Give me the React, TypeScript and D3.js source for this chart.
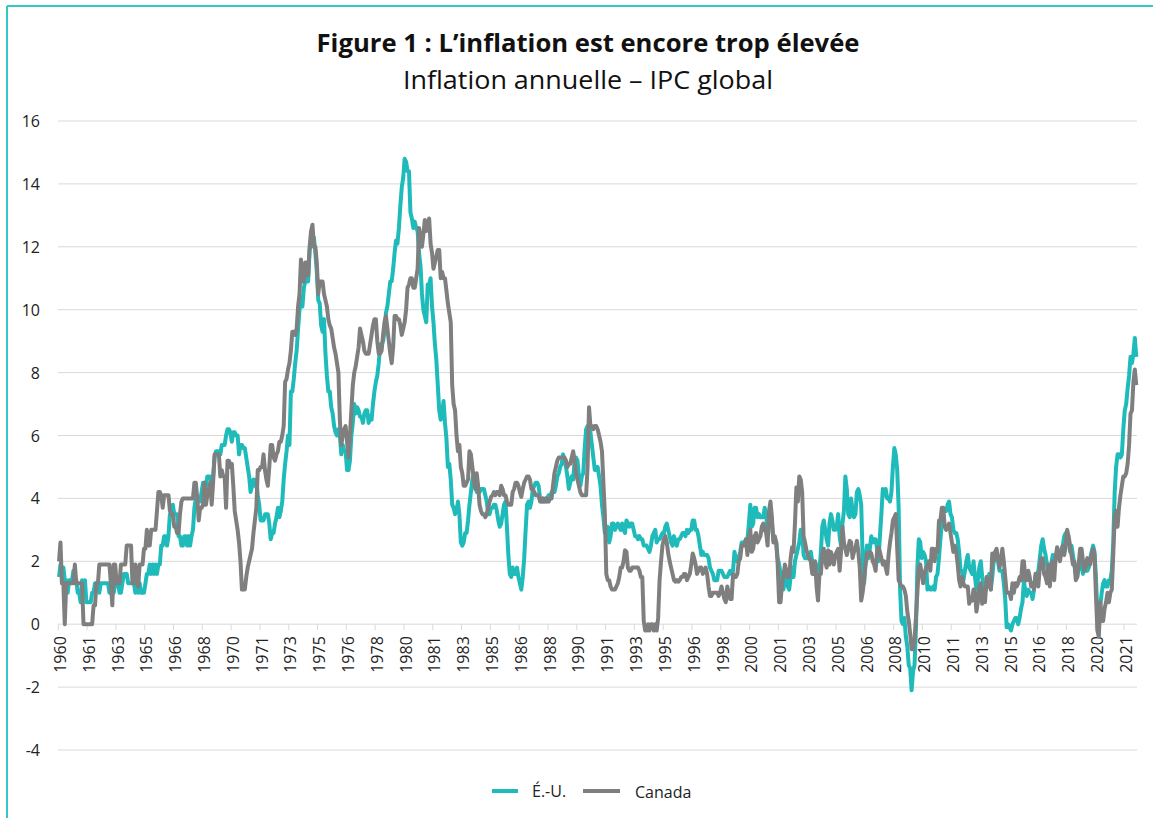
import React from "react";
import * as d3 from "d3";

// Annual CPI inflation (%), one row per calendar year, January to December.
// The chart itself begins in March 1960 and ends in July 2022.
const usRows: number[][] = [
  [1.0, 1.7, 1.5, 1.9, 1.8, 1.8, 1.4, 1.4, 1.0, 1.4, 1.4, 1.4], // 1960
  [1.7, 1.4, 1.4, 1.0, 1.0, 0.7, 1.4, 1.0, 1.4, 0.7, 0.7, 0.7],
  [0.7, 1.0, 1.0, 1.3, 1.3, 1.3, 1.0, 1.3, 1.3, 1.3, 1.3, 1.3],
  [1.3, 1.0, 1.0, 1.0, 1.0, 1.3, 1.3, 1.3, 1.0, 1.0, 1.3, 1.6],
  [1.6, 1.6, 1.3, 1.3, 1.3, 1.3, 1.3, 1.0, 1.3, 1.0, 1.3, 1.0],
  [1.0, 1.0, 1.3, 1.6, 1.6, 1.9, 1.6, 1.9, 1.6, 1.9, 1.6, 1.9], // 1965
  [1.9, 2.5, 2.5, 2.8, 2.8, 2.5, 2.8, 3.5, 3.5, 3.8, 3.5, 3.5],
  [3.5, 2.8, 2.8, 2.5, 2.5, 2.8, 2.8, 2.5, 2.8, 2.5, 2.8, 3.0],
  [3.7, 4.0, 4.0, 3.9, 3.9, 4.2, 4.5, 4.5, 4.4, 4.7, 4.7, 4.7],
  [4.4, 4.7, 5.3, 5.5, 5.5, 5.5, 5.4, 5.7, 5.7, 5.7, 6.0, 6.2],
  [6.2, 6.1, 5.8, 6.1, 6.1, 6.0, 6.0, 5.4, 5.7, 5.7, 5.6, 5.6], // 1970
  [5.3, 5.0, 4.7, 4.2, 4.4, 4.6, 4.4, 4.6, 4.1, 3.8, 3.3, 3.3],
  [3.3, 3.5, 3.5, 3.5, 3.2, 2.7, 2.9, 2.9, 3.2, 3.4, 3.7, 3.4],
  [3.6, 3.9, 4.6, 5.1, 5.5, 6.0, 5.7, 7.4, 7.4, 7.8, 8.3, 8.7],
  [9.4, 10.0, 10.4, 10.1, 10.7, 10.9, 11.5, 10.9, 11.9, 12.1, 12.2, 12.3],
  [11.8, 11.2, 10.3, 10.2, 9.5, 9.3, 9.7, 8.6, 7.9, 7.4, 7.4, 6.9], // 1975
  [6.7, 6.3, 6.1, 6.0, 6.2, 6.0, 5.4, 5.7, 5.5, 5.5, 4.9, 4.9],
  [5.2, 6.0, 6.4, 7.0, 6.7, 6.9, 6.8, 6.6, 6.6, 6.4, 6.7, 6.8],
  [6.8, 6.4, 6.6, 6.5, 7.0, 7.4, 7.7, 7.9, 8.3, 8.9, 8.9, 9.0],
  [9.3, 9.9, 10.1, 10.5, 10.9, 10.9, 11.3, 11.8, 12.2, 12.1, 12.6, 13.3],
  [13.9, 14.2, 14.8, 14.7, 14.4, 14.4, 13.1, 12.9, 12.6, 12.8, 12.6, 12.5], // 1980
  [11.8, 11.4, 10.5, 10.0, 9.8, 9.6, 10.8, 10.8, 11.0, 10.1, 9.6, 8.9],
  [8.4, 7.6, 6.8, 6.5, 6.7, 7.1, 6.4, 5.9, 5.0, 5.1, 4.6, 3.8],
  [3.7, 3.5, 3.6, 3.9, 3.5, 2.6, 2.5, 2.6, 2.9, 2.9, 3.3, 3.8],
  [4.2, 4.6, 4.8, 4.6, 4.2, 4.2, 4.2, 4.3, 4.3, 4.3, 4.1, 3.9],
  [3.5, 3.5, 3.7, 3.7, 3.8, 3.8, 3.6, 3.3, 3.1, 3.2, 3.5, 3.8], // 1985
  [3.9, 3.1, 2.2, 1.6, 1.5, 1.8, 1.6, 1.6, 1.8, 1.5, 1.3, 1.1],
  [1.5, 2.1, 3.0, 3.8, 3.9, 3.7, 3.9, 4.3, 4.4, 4.5, 4.5, 4.4],
  [4.0, 3.9, 3.9, 3.9, 3.9, 4.0, 4.1, 4.0, 4.2, 4.2, 4.2, 4.4],
  [4.7, 4.8, 5.0, 5.1, 5.4, 5.2, 5.0, 4.7, 4.3, 4.5, 4.7, 4.6],
  [5.2, 5.3, 5.2, 4.7, 4.4, 4.7, 4.8, 5.6, 6.2, 6.3, 6.3, 6.1], // 1990
  [5.7, 5.3, 4.9, 4.9, 5.0, 4.7, 4.4, 3.8, 3.4, 2.9, 3.0, 3.1],
  [2.6, 2.8, 3.2, 3.2, 3.0, 3.1, 3.2, 3.1, 3.0, 3.2, 3.0, 2.9],
  [3.3, 3.2, 3.1, 3.2, 3.2, 3.0, 2.8, 2.8, 2.7, 2.8, 2.7, 2.7],
  [2.5, 2.5, 2.5, 2.4, 2.3, 2.5, 2.8, 2.9, 3.0, 2.6, 2.7, 2.7],
  [2.8, 2.9, 2.9, 3.1, 3.2, 3.0, 2.8, 2.6, 2.5, 2.8, 2.6, 2.5], // 1995
  [2.7, 2.7, 2.8, 2.9, 2.9, 2.8, 3.0, 2.9, 3.0, 3.0, 3.3, 3.3],
  [3.0, 3.0, 2.8, 2.5, 2.2, 2.3, 2.2, 2.2, 2.2, 2.1, 1.8, 1.7],
  [1.6, 1.4, 1.4, 1.4, 1.7, 1.7, 1.7, 1.6, 1.5, 1.5, 1.5, 1.6],
  [1.7, 1.6, 1.7, 2.3, 2.1, 2.0, 2.1, 2.3, 2.6, 2.6, 2.6, 2.7],
  [2.7, 3.2, 3.8, 3.1, 3.2, 3.7, 3.7, 3.4, 3.5, 3.4, 3.4, 3.4], // 2000
  [3.7, 3.5, 2.9, 3.3, 3.6, 3.2, 2.7, 2.7, 2.6, 2.1, 1.9, 1.6],
  [1.1, 1.1, 1.5, 1.6, 1.2, 1.1, 1.5, 1.8, 1.5, 2.0, 2.2, 2.4],
  [2.6, 3.0, 3.0, 2.2, 2.1, 2.1, 2.1, 2.2, 2.3, 2.0, 1.8, 1.9],
  [1.9, 1.7, 1.7, 2.3, 3.1, 3.3, 3.0, 2.7, 2.5, 3.2, 3.5, 3.3],
  [3.0, 3.0, 3.1, 3.5, 2.8, 2.5, 3.2, 3.6, 4.7, 4.3, 3.5, 3.4], // 2005
  [4.0, 3.6, 3.4, 3.5, 4.2, 4.3, 4.1, 3.8, 2.1, 1.3, 2.0, 2.5],
  [2.1, 2.4, 2.8, 2.6, 2.7, 2.7, 2.4, 2.0, 2.8, 3.5, 4.3, 4.1],
  [4.3, 4.0, 4.0, 3.9, 4.2, 5.0, 5.6, 5.4, 4.9, 3.7, 1.1, 0.1],
  [0.0, 0.2, -0.4, -0.7, -1.3, -1.4, -2.1, -1.5, -1.3, -0.2, 1.8, 2.7],
  [2.6, 2.1, 2.3, 2.2, 2.0, 1.1, 1.2, 1.1, 1.1, 1.2, 1.1, 1.5], // 2010
  [1.6, 2.1, 2.7, 3.2, 3.6, 3.6, 3.6, 3.8, 3.9, 3.5, 3.4, 3.0],
  [2.9, 2.9, 2.7, 2.3, 1.7, 1.7, 1.4, 1.7, 2.0, 2.2, 1.8, 1.7],
  [1.6, 2.0, 1.5, 1.1, 1.4, 1.8, 2.0, 1.5, 1.2, 1.0, 1.2, 1.5],
  [1.6, 1.1, 1.5, 2.0, 2.1, 2.1, 2.0, 1.7, 1.7, 1.7, 1.3, 0.8],
  [-0.1, 0.0, -0.1, -0.2, 0.0, 0.1, 0.2, 0.2, 0.0, 0.2, 0.5, 0.7], // 2015
  [1.4, 1.0, 0.9, 1.1, 1.0, 1.0, 0.8, 1.1, 1.5, 1.6, 1.7, 2.1],
  [2.5, 2.7, 2.4, 2.2, 1.9, 1.6, 1.7, 1.9, 2.2, 2.0, 2.2, 2.1],
  [2.1, 2.2, 2.4, 2.5, 2.8, 2.9, 2.9, 2.7, 2.3, 2.5, 2.2, 1.9],
  [1.6, 1.5, 1.9, 2.0, 1.8, 1.6, 1.8, 1.7, 1.7, 1.8, 2.1, 2.3],
  [2.5, 2.3, 1.5, 0.3, 0.1, 0.6, 1.0, 1.3, 1.4, 1.2, 1.2, 1.4], // 2020
  [1.4, 1.7, 2.6, 4.2, 5.0, 5.4, 5.4, 5.3, 5.4, 6.2, 6.8, 7.0],
  [7.5, 7.9, 8.5, 8.3, 8.6, 9.1, 8.5],
];

const caRows: number[][] = [
  [1.3, 2.0, 2.0, 2.6, 1.3, 1.3, 0.0, 1.3, 1.3, 1.3, 1.3, 1.3], // 1960
  [1.3, 1.9, 1.3, 1.3, 1.3, 1.3, 1.3, 0.0, 0.0, 0.0, 0.0, 0.0],
  [0.0, 0.0, 0.6, 0.6, 1.3, 1.3, 1.9, 1.9, 1.9, 1.9, 1.9, 1.9],
  [1.9, 1.9, 1.3, 0.6, 1.9, 1.9, 1.3, 1.3, 1.3, 1.9, 1.9, 1.9],
  [1.9, 2.5, 2.5, 2.5, 2.5, 1.3, 1.3, 1.9, 1.3, 1.2, 1.9, 1.9],
  [1.9, 2.4, 2.4, 3.0, 2.5, 2.5, 3.0, 3.0, 3.0, 3.0, 3.6, 4.2], // 1965
  [4.2, 4.1, 3.7, 4.1, 4.1, 4.1, 4.1, 3.6, 3.5, 3.5, 3.1, 3.1],
  [2.9, 2.9, 3.5, 3.9, 4.0, 4.0, 4.0, 4.0, 4.0, 4.0, 4.0, 4.0],
  [4.5, 4.5, 4.0, 3.3, 3.7, 3.7, 3.8, 4.5, 3.8, 4.1, 4.3, 4.5],
  [3.8, 4.5, 5.4, 5.4, 5.4, 5.4, 4.7, 4.9, 4.7, 4.7, 3.7, 5.2],
  [5.2, 5.0, 5.1, 4.4, 3.6, 3.3, 3.0, 2.6, 2.0, 1.1, 1.1, 1.1], // 1970
  [1.5, 1.8, 2.0, 2.2, 2.4, 2.9, 3.3, 3.7, 4.9, 4.9, 5.0, 5.0],
  [5.4, 4.9, 4.6, 4.4, 5.0, 5.7, 5.7, 5.3, 5.2, 5.4, 5.5, 5.8],
  [5.8, 6.0, 6.3, 7.7, 7.8, 8.1, 8.3, 8.7, 9.3, 9.3, 9.2, 9.4],
  [10.1, 10.5, 11.6, 10.9, 10.9, 11.5, 11.1, 11.1, 12.0, 12.5, 12.7, 12.0],
  [12.0, 11.5, 10.5, 10.9, 10.9, 10.9, 10.5, 10.3, 10.1, 9.7, 9.5, 9.4], // 1975
  [9.1, 8.8, 8.6, 8.3, 8.0, 6.5, 5.7, 6.0, 6.2, 6.3, 5.8, 5.3],
  [6.0, 6.8, 7.6, 8.0, 8.2, 8.5, 8.8, 9.4, 9.2, 9.0, 8.7, 8.6],
  [8.6, 8.6, 8.9, 9.2, 9.5, 9.7, 9.7, 9.0, 8.6, 8.6, 8.7, 9.2],
  [9.6, 9.8, 9.4, 9.0, 8.6, 8.3, 8.8, 9.8, 9.8, 9.7, 9.7, 9.5],
  [9.2, 9.4, 9.6, 10.0, 10.7, 10.8, 11.0, 11.0, 10.7, 10.7, 11.0, 11.3], // 1980
  [12.6, 12.3, 12.0, 12.4, 12.85, 12.5, 12.7, 12.9, 12.1, 11.8, 11.3, 11.5],
  [11.7, 11.9, 11.9, 11.0, 11.2, 11.0, 11.0, 10.6, 10.2, 9.9, 9.6, 7.6],
  [7.0, 6.8, 6.0, 5.5, 5.7, 5.0, 4.8, 4.4, 4.4, 4.5, 4.6, 5.5],
  [5.4, 5.0, 4.6, 4.3, 4.8, 4.4, 3.8, 3.6, 3.5, 3.5, 3.4, 3.5],
  [3.7, 3.9, 4.05, 4.1, 4.2, 4.1, 4.2, 4.2, 4.1, 4.4, 4.3, 4.1], // 1985
  [4.1, 3.9, 3.8, 3.8, 3.8, 4.2, 4.3, 4.5, 4.5, 4.4, 4.2, 4.05],
  [4.3, 4.5, 4.6, 4.7, 4.7, 4.6, 4.3, 4.3, 4.2, 4.1, 4.1, 4.1],
  [3.9, 3.9, 4.0, 3.9, 4.0, 3.9, 3.9, 4.0, 4.0, 4.4, 4.8, 5.0],
  [5.2, 5.3, 5.3, 5.3, 5.3, 5.3, 5.2, 5.0, 5.1, 5.1, 5.3, 5.5],
  [5.2, 4.8, 4.6, 4.4, 4.2, 4.1, 4.1, 4.1, 4.1, 5.0, 6.9, 6.3], // 1990
  [6.3, 6.2, 6.3, 6.3, 6.2, 6.0, 5.8, 5.5, 4.5, 3.5, 1.6, 1.4],
  [1.4, 1.2, 1.1, 1.1, 1.1, 1.2, 1.3, 1.5, 1.8, 1.8, 2.0, 2.35],
  [2.3, 1.8, 1.7, 1.7, 1.8, 1.8, 1.8, 1.8, 1.8, 1.7, 1.5, 1.5],
  [0.1, -0.2, -0.2, 0.0, -0.2, 0.0, 0.0, -0.2, 0.0, -0.2, 0.2, 1.4],
  [2.0, 2.5, 2.7, 2.8, 2.6, 2.25, 2.0, 1.8, 1.6, 1.4, 1.35, 1.4], // 1995
  [1.35, 1.4, 1.5, 1.5, 1.6, 1.6, 1.4, 1.5, 1.6, 1.9, 2.25, 2.1],
  [1.9, 1.6, 1.7, 1.8, 1.8, 1.6, 1.7, 1.8, 1.6, 1.2, 0.9, 0.9],
  [1.0, 1.0, 1.0, 1.0, 0.9, 1.0, 1.2, 1.0, 0.8, 0.7, 1.2, 1.0],
  [0.8, 0.8, 1.6, 1.5, 1.5, 1.6, 2.0, 2.1, 2.5, 2.5, 2.5, 2.7],
  [2.2, 2.7, 3.0, 2.3, 2.4, 2.8, 2.9, 2.6, 2.7, 2.8, 3.1, 3.2], // 2000
  [3.0, 2.9, 2.5, 3.6, 3.9, 3.4, 2.6, 2.8, 2.6, 1.9, 0.7, 0.7],
  [1.3, 1.5, 1.9, 1.7, 1.5, 1.5, 2.1, 2.45, 2.3, 3.2, 4.35, 3.9],
  [4.7, 4.6, 4.2, 2.8, 2.6, 2.35, 2.2, 2.1, 2.0, 1.6, 1.6, 2.0],
  [1.2, 0.75, 1.6, 1.6, 2.25, 2.4, 2.0, 1.8, 2.35, 1.9, 2.3, 2.1],
  [1.9, 2.2, 2.3, 2.4, 1.7, 2.3, 3.1, 2.6, 2.4, 2.2, 2.4, 2.65], // 2005
  [2.6, 2.1, 2.3, 2.4, 2.65, 2.3, 1.8, 0.75, 1.0, 1.4, 1.9, 2.25],
  [2.2, 2.3, 2.25, 2.0, 1.9, 1.7, 2.3, 2.45, 2.3, 2.1, 1.9, 2.0],
  [1.8, 1.6, 2.2, 2.6, 2.9, 3.3, 3.4, 3.5, 2.4, 1.4, 1.3, 1.2],
  [1.2, 1.1, 0.9, 0.4, 0.1, -0.3, -0.8, -0.8, -0.5, 0.2, 1.0, 1.8],
  [1.9, 1.6, 1.3, 1.6, 1.8, 1.8, 2.0, 1.7, 2.4, 2.4, 2.0, 2.4], // 2010
  [2.3, 3.3, 3.3, 3.7, 3.7, 3.1, 3.0, 3.1, 3.2, 2.9, 2.6, 2.3],
  [2.5, 2.3, 1.9, 1.4, 1.2, 1.5, 1.3, 1.2, 1.2, 1.2, 0.65, 0.8],
  [0.75, 1.1, 1.0, 0.4, 0.7, 1.2, 1.3, 0.65, 1.1, 0.7, 1.5, 1.2],
  [1.4, 1.1, 2.25, 2.0, 2.3, 2.4, 2.1, 1.8, 2.0, 2.4, 2.0, 1.5],
  [1.0, 1.0, 1.0, 0.8, 1.3, 1.0, 1.3, 1.2, 1.3, 1.5, 1.4, 2.0], // 2015
  [2.0, 1.4, 1.4, 1.7, 1.5, 1.2, 1.3, 1.1, 1.6, 1.5, 1.2, 1.8],
  [2.1, 2.1, 1.6, 1.5, 1.3, 1.9, 1.2, 1.9, 2.0, 1.4, 2.1, 2.45],
  [2.2, 2.0, 2.3, 2.5, 2.2, 2.5, 3.0, 2.8, 2.5, 2.2, 1.9, 2.0],
  [1.4, 1.5, 1.9, 2.4, 2.4, 2.0, 1.7, 1.9, 2.1, 1.9, 1.9, 2.2],
  [2.4, 2.2, 0.9, -0.2, -0.4, 0.7, 0.1, 0.1, 0.5, 0.7, 1.0, 0.7], // 2020
  [1.0, 1.1, 2.2, 3.4, 3.6, 3.1, 3.7, 4.1, 4.4, 4.7, 4.7, 4.8],
  [5.1, 5.7, 6.7, 6.8, 7.7, 8.1, 7.6],
];

const firstYear = 1960;
const startMonth = 2; // March 1960
const labelEvery = 20;
const yTicks = [16, 14, 12, 10, 8, 6, 4, 2, 0, -2, -4];
const seriesNames = ["É.-U.", "Canada"];
const colors = ["#1fbaba", "#7f7f7f"];

const usValues = usRows.flat().slice(startMonth);
const caValues = caRows.flat().slice(startMonth);

const W = 1153;
const H = 818;
const fontFamily = "'Open Sans', 'Noto Sans', sans-serif";

export default function App() {
  const n = usValues.length;
  const x = d3.scaleLinear().domain([0, n]).range([58.3, 1137]);
  const y = d3.scaleLinear().domain([-4, 16]).range([750, 121]);

  const line = d3
    .line<number>()
    .x((_, i) => x(i + 0.5))
    .y((d) => y(d));

  const tickIdx = d3.range(0, n, labelEvery);
  const yearOf = (i: number) => firstYear + Math.floor((i + startMonth) / 12);

  return (
    <svg
      width={W}
      height={H}
      style={{ position: "absolute", left: 0, top: 0, background: "#fff" }}
      fontFamily={fontFamily}
    >
      <rect x={0} y={0} width={W} height={H} fill="#fff" />
      {/* teal frame */}
      <line x1={7} x2={W} y1={6} y2={6} stroke="#35c6c6" strokeWidth={2} />
      <line x1={7} x2={7} y1={6} y2={H} stroke="#35c6c6" strokeWidth={2} />

      <text
        x={588}
        y={52}
        textAnchor="middle"
        fontSize={25}
        fontWeight={700}
        fill="#111"
        textLength={543}
        lengthAdjust="spacingAndGlyphs"
      >
        Figure 1 : L’inflation est encore trop élevée
      </text>
      <text
        x={588}
        y={89}
        textAnchor="middle"
        fontSize={26}
        fill="#111"
        textLength={370}
        lengthAdjust="spacingAndGlyphs"
      >
        Inflation annuelle – IPC global
      </text>

      {/* gridlines */}
      {yTicks.map((t) => (
        <g key={t}>
          <line
            x1={58}
            x2={1137}
            y1={y(t)}
            y2={y(t)}
            stroke="#d9d9d9"
            strokeWidth={1}
          />
          <text
            x={40}
            y={y(t)}
            textAnchor="end"
            dominantBaseline="central"
            fontSize={16}
            fill="#222"
          >
            {t}
          </text>
        </g>
      ))}

      {/* category ticks and year labels */}
      {tickIdx.map((i) => (
        <g key={i}>
          <line
            x1={x(i)}
            x2={x(i)}
            y1={y(0)}
            y2={y(0) + 6}
            stroke="#d9d9d9"
          />
          <text
            transform={`translate(${x(i + 0.5) + 1},${y(0) + 12}) rotate(-90)`}
            textAnchor="end"
            dominantBaseline="central"
            fontSize={16}
            fill="#222"
          >
            {yearOf(i)}
          </text>
        </g>
      ))}

      <path
        d={line(usValues) ?? ""}
        fill="none"
        stroke={colors[0]}
        strokeWidth={4}
        strokeLinejoin="round"
      />
      <path
        d={line(caValues) ?? ""}
        fill="none"
        stroke={colors[1]}
        strokeWidth={4}
        strokeLinejoin="round"
      />

      {/* legend */}
      <line x1={492} x2={518} y1={791} y2={791} stroke={colors[0]} strokeWidth={4} />
      <text x={532} y={797} fontSize={16} fill="#222">
        {seriesNames[0]}
      </text>
      <line x1={583} x2={620} y1={791} y2={791} stroke={colors[1]} strokeWidth={4} />
      <text x={635} y={798} fontSize={16} fill="#222">
        {seriesNames[1]}
      </text>
    </svg>
  );
}
